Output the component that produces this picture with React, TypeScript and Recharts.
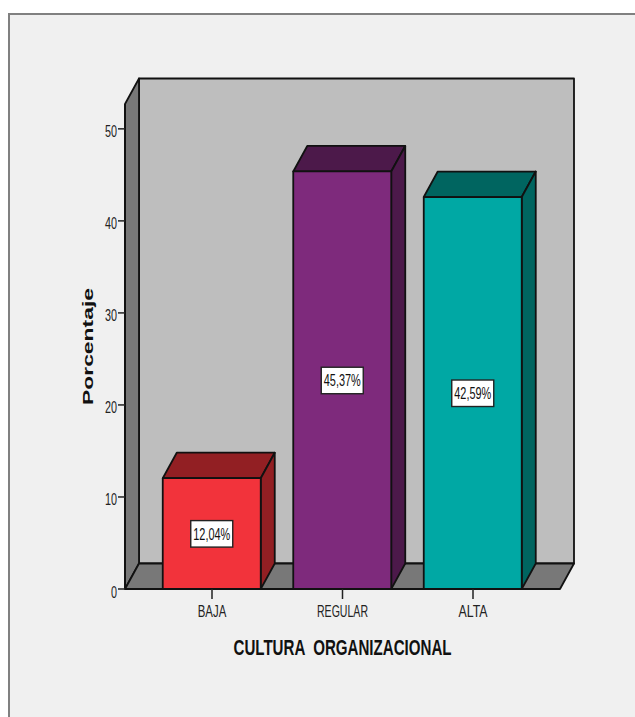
import React from "react";
import { Bar, BarChart, LabelList, XAxis, YAxis, usePlotArea } from "recharts";

const categories = ["BAJA", "REGULAR", "ALTA"];
const percentages = [12.04, 45.37, 42.59];
const yTicks = [0, 10, 20, 30, 40, 50];
const frontFills = ["#f2333b", "#7e2a7c", "#00a8a4"];
const topFills = ["#921f23", "#4c194a", "#006560"];
const sideFills = ["#921f23", "#4c194a", "#006560"];
const categoryLabelWidths: Record<string, number> = { BAJA: 28.5, REGULAR: 51, ALTA: 29 };

const rows = categories.map((name, i) => ({ name, value: percentages[i] }));

const DEPTH_X = 14;
const DEPTH_Y = 25.5;
const EDGE = "#111";
const sans = "'Liberation Sans', Arial, sans-serif";
const edgeStroke = { stroke: EDGE, strokeWidth: 1.8, strokeLinejoin: "round" as const };

// Back wall, side wall and floor of the 3D box behind the bars.
function Walls() {
  const area = usePlotArea();
  if (!area) return null;
  const { x, y, width, height } = area;
  const b = y + height;
  const r = x + width;
  return (
    <g>
      <rect x={x + DEPTH_X} y={y - DEPTH_Y} width={width} height={height} fill="#bebebe" {...edgeStroke} />
      <polygon
        points={`${x},${y} ${x + DEPTH_X},${y - DEPTH_Y} ${x + DEPTH_X},${b - DEPTH_Y} ${x},${b}`}
        fill="#787878"
        {...edgeStroke}
      />
      <polygon
        points={`${x},${b} ${x + DEPTH_X},${b - DEPTH_Y} ${r + DEPTH_X},${b - DEPTH_Y} ${r},${b}`}
        fill="#787878"
        {...edgeStroke}
      />
    </g>
  );
}

// Front face plus the shaded top and right side of one bar.
function Bar3D(props: any) {
  const { x, y, width, height, index } = props;
  return (
    <g>
      <polygon
        points={`${x},${y} ${x + DEPTH_X},${y - DEPTH_Y} ${x + width + DEPTH_X},${y - DEPTH_Y} ${x + width},${y}`}
        fill={topFills[index]}
        {...edgeStroke}
      />
      <polygon
        points={`${x + width},${y} ${x + width + DEPTH_X},${y - DEPTH_Y} ${x + width + DEPTH_X},${y + height - DEPTH_Y} ${x + width},${y + height}`}
        fill={sideFills[index]}
        {...edgeStroke}
      />
      <rect x={x} y={y} width={width} height={height} fill={frontFills[index]} {...edgeStroke} />
    </g>
  );
}

// Boxed percentage in the middle of the bar's front face.
function ValueBox(props: any) {
  const { x, y, width, height, value } = props;
  const cx = x + width / 2;
  const cy = y + height / 2;
  const text = `${Number(value).toFixed(2).replace(".", ",")}%`;
  return (
    <g>
      <rect x={cx - 21} y={cy - 13} width={42} height={26.5} fill="#fff" stroke="#222" strokeWidth={1.4} />
      <text
        x={cx}
        y={cy + 6}
        textAnchor="middle"
        fontFamily={sans}
        fontSize={17}
        fill="#111"
        textLength={37}
        lengthAdjust="spacingAndGlyphs"
      >
        {text}
      </text>
    </g>
  );
}

// Tall condensed value label on the left axis.
function ValueTick(props: any) {
  const { y, payload } = props;
  const label = String(payload.value);
  return (
    <text
      x={117}
      y={y + 8.5}
      textAnchor="end"
      fontFamily={sans}
      fontSize={17}
      fill="#222"
      textLength={label.length * 6}
      lengthAdjust="spacingAndGlyphs"
    >
      {label}
    </text>
  );
}

// Tall condensed category label under the axis.
function CategoryTick(props: any) {
  const { x, payload } = props;
  return (
    <text
      x={x}
      y={617}
      textAnchor="middle"
      fontFamily={sans}
      fontSize={17}
      fill="#222"
      textLength={categoryLabelWidths[payload.value]}
      lengthAdjust="spacingAndGlyphs"
    >
      {payload.value}
    </text>
  );
}

function XTitle(props: any) {
  const { viewBox } = props;
  return (
    <text
      x={viewBox.x + viewBox.width / 2}
      y={viewBox.y + 66}
      textAnchor="middle"
      fontFamily={sans}
      fontSize={22}
      fontWeight={700}
      fill="#111"
      textLength={218}
      lengthAdjust="spacingAndGlyphs"
      style={{ whiteSpace: "pre" }}
    >
      CULTURA  ORGANIZACIONAL
    </text>
  );
}

function YTitle(props: any) {
  const { viewBox } = props;
  const cy = viewBox.y + viewBox.height / 2;
  return (
    <text
      x={92.5}
      y={cy}
      transform={`rotate(-90 92.5 ${cy})`}
      textAnchor="middle"
      fontFamily={sans}
      fontSize={14.5}
      fontWeight={700}
      fill="#111"
      textLength={117}
      lengthAdjust="spacingAndGlyphs"
    >
      Porcentaje
    </text>
  );
}

export default function App() {
  return (
    <div style={{ position: "absolute", left: 0, top: 0, width: 635, height: 717, background: "#fff", overflow: "hidden" }}>
      <div
        style={{
          position: "absolute",
          left: 8,
          top: 13,
          width: 627,
          height: 704,
          boxSizing: "border-box",
          background: "#f0f0f0",
          borderTop: "2px solid #808080",
          borderLeft: "2px solid #808080",
        }}
      />
      <div style={{ position: "absolute", left: 0, top: 0 }}>
        <BarChart
          width={635}
          height={717}
          data={rows}
          margin={{ top: 104, right: 75, bottom: 0, left: 0 }}
          barSize={98}
        >
          <Walls />
          <XAxis
            dataKey="name"
            height={128}
            padding={{ left: 21.75, right: 21.75 }}
            tickSize={10}
            tick={<CategoryTick />}
            interval={0}
            axisLine={{ stroke: EDGE, strokeWidth: 1.8 }}
            tickLine={{ stroke: "#222", strokeWidth: 1.5 }}
            label={{ content: <XTitle /> }}
          />
          <YAxis
            width={125}
            domain={[0, 52.7]}
            ticks={yTicks}
            allowDataOverflow
            tickSize={7}
            tick={<ValueTick />}
            axisLine={{ stroke: EDGE, strokeWidth: 1.8 }}
            tickLine={{ stroke: "#222", strokeWidth: 1.5 }}
            label={{ content: <YTitle /> }}
          />
          <Bar dataKey="value" shape={<Bar3D />} isAnimationActive={false}>
            <LabelList dataKey="value" content={<ValueBox />} />
          </Bar>
        </BarChart>
      </div>
    </div>
  );
}
